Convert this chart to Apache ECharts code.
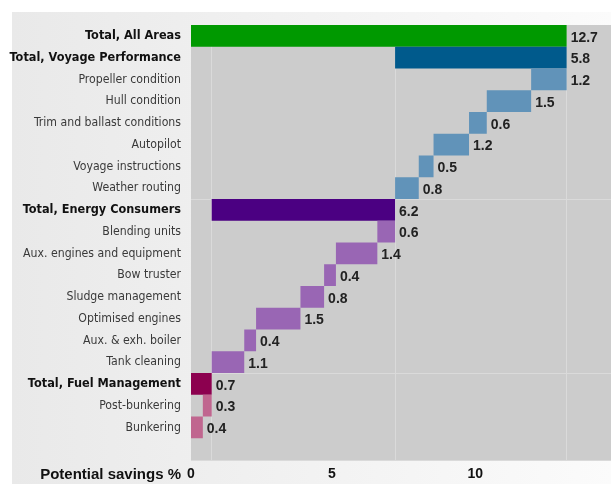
<!DOCTYPE html>
<html>
<head>
<meta charset="utf-8">
<script src="https://cdn.jsdelivr.net/npm/echarts@6/dist/echarts.min.js"></script>
<style>
html,body{margin:0;padding:0;background:#fff;}
#c{width:611px;height:484px;}
</style>
</head>
<body>
<div id="c"></div>
<script>
// ---- data (top to bottom) ----
var categories = [
  'Total, All Areas',
  'Total, Voyage Performance',
  'Propeller condition',
  'Hull condition',
  'Trim and ballast conditions',
  'Autopilot',
  'Voyage instructions',
  'Weather routing',
  'Total, Energy Consumers',
  'Blending units',
  'Aux. engines and equipment',
  'Bow truster',
  'Sludge management',
  'Optimised engines',
  'Aux. & exh. boiler',
  'Tank cleaning',
  'Total, Fuel Management',
  'Post-bunkering',
  'Bunkering'
];
var values = [12.7, 5.8, 1.2, 1.5, 0.6, 1.2, 0.5, 0.8, 6.2, 0.6, 1.4, 0.4, 0.8, 1.5, 0.4, 1.1, 0.7, 0.3, 0.4];
var kinds  = ['grand','total','item','item','item','item','item','item','total','item','item','item','item','item','item','item','total','item','item'];
var groups = ['all','voyage','voyage','voyage','voyage','voyage','voyage','voyage','energy','energy','energy','energy','energy','energy','energy','energy','fuel','fuel','fuel'];
var xTicks = [0, 5, 10];

// ---- styles ----
var palette = {
  all:    {total:'#009900', item:'#009900'},
  voyage: {total:'#005a8c', item:'#6193b9'},
  energy: {total:'#4b0082', item:'#9966b4'},
  fuel:   {total:'#8c004f', item:'#c0668f'}
};
var labelFont = "'DejaVu Sans Condensed','Liberation Sans Narrow',sans-serif";
var numFont = "'Liberation Sans',Arial,sans-serif";

// ---- waterfall bases (computed from bottom up) ----
var bases = new Array(values.length);
var cum = 0, groupStart = 0, boundaries = [];
for (var i = values.length - 1; i >= 0; i--) {
  if (kinds[i] === 'item') { bases[i] = cum; cum += values[i]; }
  else if (kinds[i] === 'total') { bases[i] = groupStart; groupStart = cum; boundaries.push(+cum.toFixed(2)); }
  else { bases[i] = 0; }
}
var sepRows = [];
kinds.forEach(function (k, i) { if (k === 'total' && i > 1) sepRows.push(i); });

var yData = categories.concat(['']);
var placeholder = bases.map(function (b) { return +b.toFixed(2); });
var barData = values.map(function (v, i) {
  return { value: v, itemStyle: { color: palette[groups[i]][kinds[i] === 'item' ? 'item' : 'total'] } };
});

var chart = echarts.init(document.getElementById('c'), null, {renderer:'canvas'});
chart.setOption({
  animation: false,
  backgroundColor: '#ffffff',
  graphic: { elements: [{
    type: 'rect', z: -10, silent: true,
    shape: { x: 12, y: 12, width: 599, height: 472 },
    style: { fill: new echarts.graphic.LinearGradient(0, 0, 1, 0, [
      {offset: 0, color: '#e9e9e9'}, {offset: 1, color: '#fbfbfb'}]) }
  }]},
  grid: { left: 191, right: 0, top: 25, bottom: 24, containLabel: false, outerBoundsMode: 'none',
          show: true, backgroundColor: '#cccccc', borderWidth: 0 },
  xAxis: {
    type: 'value', min: 0, max: 14.2, interval: 5,
    axisLine: {show: false}, axisTick: {show: false}, splitLine: {show: false},
    name: '{nm|Potential savings %}', nameLocation: 'start', nameGap: 10,
    nameTextStyle: {
      rich: { nm: { fontFamily: numFont, fontWeight: 'bold', fontSize: 15, color: '#111', padding: [29, 0, 0, 0] } }
    },
    axisLabel: {
      showMaxLabel: false, margin: 7,
      formatter: function (v) { return xTicks.indexOf(v) >= 0 ? '{s' + v + '|' + v + '}' : ''; },
      rich: {
        s0: {fontFamily: numFont, fontWeight: 'bold', fontSize: 14, color: '#111'},
        s5: {fontFamily: numFont, fontWeight: 'bold', fontSize: 14, color: '#111', padding: [0, 14, 0, 0]},
        s10: {fontFamily: numFont, fontWeight: 'bold', fontSize: 14, color: '#111', padding: [0, 23, 0, 0]}
      }
    }
  },
  yAxis: {
    type: 'category', inverse: true, data: yData,
    axisLine: {show: false}, axisTick: {show: false},
    splitLine: { show: true, interval: function (idx) { return sepRows.indexOf(idx) >= 0; },
                 lineStyle: {color: '#dadada', width: 1} },
    axisLabel: {
      margin: 10,
      formatter: function (v, idx) {
        if (!v) return '';
        return kinds[idx] === 'item' ? '{n|' + v + '}' : '{b|' + v + '}';
      },
      rich: {
        n: {fontFamily: labelFont, fontSize: 12.2, color: '#3a3a3a'},
        b: {fontFamily: labelFont, fontSize: 12.6, fontWeight: 'bold', color: '#111'}
      }
    }
  },
  series: [
    {
      type: 'bar', stack: 'w', z: 1, silent: true,
      itemStyle: {color: 'transparent'},
      barCategoryGap: '0%',
      data: placeholder,
      markLine: {
        silent: true, symbol: 'none', label: {show: false},
        lineStyle: {color: '#dadada', width: 1, type: 'solid'},
        data: boundaries.map(function (b) { return {xAxis: b}; })
      }
    },
    {
      type: 'bar', stack: 'w', z: 5,
      barCategoryGap: '0%',
      data: barData,
      label: {
        show: true, position: 'right', distance: 4, offset: [0, 2],
        fontFamily: numFont, fontWeight: 'bold', fontSize: 14, color: '#222',
        formatter: function (p) { return values[p.dataIndex].toFixed(1); }
      }
    }
  ]
});
</script>
</body>
</html>
